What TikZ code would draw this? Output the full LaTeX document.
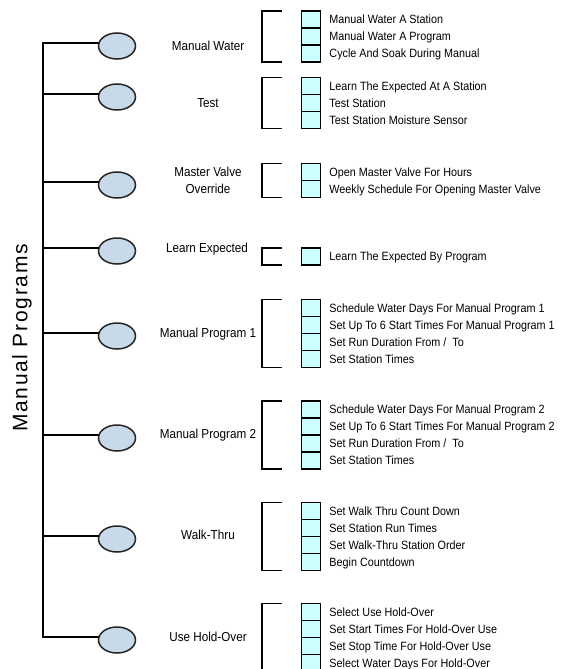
\documentclass[tikz,border=0pt]{standalone}
\usepackage{fontspec}
\setmainfont{Liberation Sans}[FakeStretch=0.9]
\newfontfamily\titlefont{Liberation Sans}[LetterSpace=8]
\usetikzlibrary{shapes.geometric}
\definecolor{ovalfill}{RGB}{200,218,234}
\definecolor{cellfill}{RGB}{204,255,255}
\begin{document}
\begin{tikzpicture}[x=1pt,y=-1pt,
  ln/.style={line width=1.6pt, line cap=rect},
  oval/.style={ellipse, draw=black!85, line width=1.5pt, fill=ovalfill, minimum width=37pt, minimum height=26pt, inner sep=0pt},
  cellbox/.style={draw=black, line width=1.5pt, fill=cellfill, minimum width=19pt, minimum height=17pt, inner sep=0pt},
  itm/.style={anchor=west, font=\fontsize{12}{12}\selectfont, text height=8.6pt, text depth=0pt, inner sep=0pt},
  lbl/.style={font=\fontsize{13}{13}\selectfont, text height=9.3pt, text depth=0pt, inner sep=0pt},
]
\useasboundingbox (0,0) rectangle (563,669);
\clip (0,0) rectangle (563,669);

% title
\node[rotate=90, font=\titlefont\fontsize{21}{21}\selectfont, inner sep=0pt] (title) at (22,338) {Manual Programs};

% spine
\coordinate (top) at (43,43);
\coordinate (bot) at (43,637);
\draw[ln] (top) -- (bot);

% ovals and branches
\foreach \y [count=\i] in {43,94,182,248,333,435,536,637} {
  \node[oval] (o\i) at (117,{\y+3}) {};
  \coordinate (b\i) at (43,\y);
  \draw[ln] (b\i) -- (o\i.west |- b\i);
}

% labels
\node[lbl] (l1) at (208,46) {Manual Water};
\node[lbl] (l2) at (208,103) {Test};
\node[lbl] (l3a) at (208,172) {Master Valve};
\node[lbl] (l3b) at (208,189) {Override};
\node[lbl] (l4) at (207,248) {Learn Expected};
\node[lbl] (l5) at (208,333) {Manual Program 1};
\node[lbl] (l6) at (208,434) {Manual Program 2};
\node[lbl] (l7) at (208,535) {Walk-Thru};
\node[lbl] (l8) at (208,637) {Use Hold-Over};

% brackets and cells
\foreach \t/\n [count=\g] in {11/3, 77.5/3, 163.5/2, 248/1, 299.5/4, 401/4, 502.5/4, 603.5/4} {
  \draw[ln, line cap=butt] (282,\t) -- (262,\t) -- (262,{\t+17*\n}) -- (282,{\t+17*\n});
  \foreach \k in {1,...,\n} {
    \node[cellbox] (c\g-\k) at (311,{\t+17*(\k-0.5)}) {};
  }
}

% items
\newcommand\itemtext[2]{\node[itm] at ([xshift=8pt]#1.east) {#2};}
\itemtext{c1-1}{Manual Water A Station}
\itemtext{c1-2}{Manual Water A Program}
\itemtext{c1-3}{Cycle And Soak During Manual}
\itemtext{c2-1}{Learn The Expected At A Station}
\itemtext{c2-2}{Test Station}
\itemtext{c2-3}{Test Station Moisture Sensor}
\itemtext{c3-1}{Open Master Valve For Hours}
\itemtext{c3-2}{Weekly Schedule For Opening Master Valve}
\itemtext{c4-1}{Learn The Expected By Program}
\itemtext{c5-1}{Schedule Water Days For Manual Program 1}
\itemtext{c5-2}{Set Up To 6 Start Times For Manual Program 1}
\itemtext{c5-3}{Set Run Duration From /\ \ To}
\itemtext{c5-4}{Set Station Times}
\itemtext{c6-1}{Schedule Water Days For Manual Program 2}
\itemtext{c6-2}{Set Up To 6 Start Times For Manual Program 2}
\itemtext{c6-3}{Set Run Duration From /\ \ To}
\itemtext{c6-4}{Set Station Times}
\itemtext{c7-1}{Set Walk Thru Count Down}
\itemtext{c7-2}{Set Station Run Times}
\itemtext{c7-3}{Set Walk-Thru Station Order}
\itemtext{c7-4}{Begin Countdown}
\itemtext{c8-1}{Select Use Hold-Over}
\itemtext{c8-2}{Set Start Times For Hold-Over Use}
\itemtext{c8-3}{Set Stop Time For Hold-Over Use}
\itemtext{c8-4}{Select Water Days For Hold-Over}
\end{tikzpicture}
\end{document}
